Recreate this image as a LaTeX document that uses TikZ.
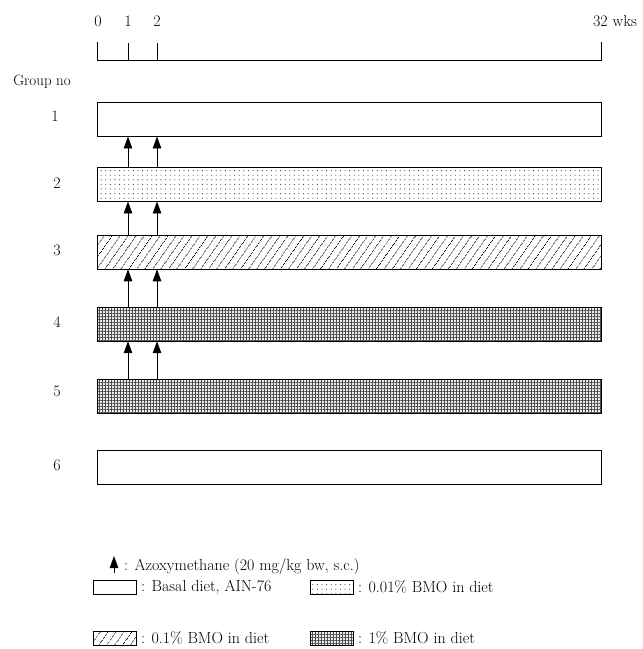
\documentclass[tikz,border=0pt]{standalone}
\usetikzlibrary{patterns.meta,arrows.meta}
\begin{document}
\begin{tikzpicture}[x=1pt,y=-1pt,
  every node/.style={font=\fontsize{16}{18}\selectfont, inner sep=0pt},
  bar/.style={draw, line width=0.9pt, minimum width=504pt, minimum height=34pt},
  key/.style={draw, line width=0.7pt, minimum width=43pt, minimum height=14pt},
  dotfill/.style={pattern={Dots[distance=4.6pt,radius=0.55pt]}, pattern color=black!80},
  hatchfill/.style={pattern={Lines[angle=55,distance=6.5pt,line width=0.6pt]}},
  gridfill/.style={preaction={fill=gray!15}, pattern={Hatch[angle=0,distance=3pt,line width=0.4pt]}, pattern color=black!70},
  inj/.style={line width=0.9pt, -{Triangle[length=12pt,width=8.5pt]}},
  tick/.style={line width=0.9pt}]
\useasboundingbox (0,0) rectangle (643,649);
% time axis
\coordinate (a0) at (97,60);
\coordinate (a32) at (601,60);
\coordinate (t1) at (128,60);
\coordinate (t2) at (157,60);
\draw[tick] (97,42) -- (a0) -- (a32) -- (601,42);
\draw[tick] (128,43) -- (t1);
\draw[tick] (157,43) -- (t2);
\node (l0) at (98,21) {0};
\node (l1) at (128,21) {1};
\node (l2) at (157,21) {2};
\node (l32) at (615,21) {32 wks};
\node[font=\fontsize{15}{17}\selectfont] (grp) at (42,82) {Group no};
% bars
\node[bar] (b1) at (349,119) {};
\node[bar, dotfill] (b2) at (349,184) {};
\node[bar, hatchfill] (b3) at (349,252) {};
\node[bar, gridfill] (b4) at (349,324) {};
\node[bar, gridfill] (b5) at (349,396) {};
\node[bar] (b6) at (349,467) {};
\node (g1) at (55,116) {1};
\node (g2) at (57,183) {2};
\node (g3) at (57,250) {3};
\node (g4) at (57,322) {4};
\node (g5) at (57,391) {5};
\node (g6) at (57,465) {6};
% injections
\foreach \u/\l in {b2/b1,b3/b2,b4/b3,b5/b4}{
  \draw[inj] (\u.north -| t1) -- (\l.south -| t1);
  \draw[inj] (\u.north -| t2) -- (\l.south -| t2);
}
% legend
\coordinate (la) at (114,573);
\node[anchor=west] (azo) at (124,566) {: Azoxymethane (20 mg/kg bw, s.c.)};
\draw[inj] (la) -- (114,556);
\node[key] (k1) at (115,587) {};
\node[anchor=west] (k1t) at (141,587) {: Basal diet, AIN-76};
\node[key, dotfill] (k2) at (332,587) {};
\node[anchor=west] (k2t) at (358,587) {: 0.01\% BMO in diet};
\node[key, hatchfill] (k3) at (115,638) {};
\node[anchor=west] (k3t) at (141,638) {: 0.1\% BMO in diet};
\node[key, gridfill] (k4) at (332,638) {};
\node[anchor=west] (k4t) at (358,638) {: 1\% BMO in diet};
\end{tikzpicture}
\end{document}
